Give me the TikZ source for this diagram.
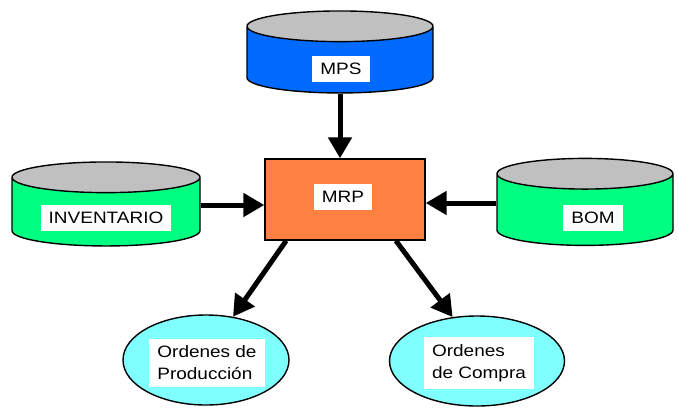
\documentclass[tikz,border=0pt]{standalone}
\usepackage{fontspec}
\setmainfont{Liberation Sans}[FakeStretch=1.15]
\usetikzlibrary{arrows.meta,shapes.geometric,positioning}

\definecolor{mpsblue}{RGB}{0,106,255}
\definecolor{tankgreen}{RGB}{0,255,128}
\definecolor{lidgray}{RGB}{192,192,192}
\definecolor{mrporange}{RGB}{255,128,64}
\definecolor{ordercyan}{RGB}{128,255,255}

\begin{document}
\begin{tikzpicture}[x=1pt,y=-1pt]

\tikzset{tank/.style={cylinder, shape border rotate=90, draw, line width=1.4pt, aspect=4.6,
                      cylinder uses custom fill, cylinder end fill=lidgray},
         tag/.style={fill=white, inner xsep=8pt, inner ysep=7pt, align=left,
                     font=\fontsize{16.5}{22}\selectfont},
         flow/.style={line width=5pt, -{Triangle[length=21pt,width=23pt]}}}

\useasboundingbox (0,0) rectangle (678,408);

% stores
\node[tank, cylinder body fill=mpsblue, minimum width=186pt, minimum height=82pt] (mps) at (340,62) {};
\node[tank, cylinder body fill=tankgreen, minimum width=188pt, minimum height=84pt] (inv) at (106,214) {};
\node[tank, cylinder body fill=tankgreen, minimum width=176pt, minimum height=87pt] (bom) at (585,212) {};

% planner and outputs
\node[draw, line width=1.4pt, fill=mrporange, minimum width=160pt, minimum height=81pt] (mrp) at (345,199.5) {};
\node[ellipse, draw, line width=1.4pt, fill=ordercyan, minimum width=166pt, minimum height=90pt] (prod) at (206,360) {};
\node[ellipse, draw, line width=1.4pt, fill=ordercyan, minimum width=175pt, minimum height=90pt] (buy) at (477,361) {};

% white tags
\node[tag] (mpstag) at (341,69) {MPS};
\node[tag] (invtag) at (106,218) {INVENTARIO};
\node[tag] (bomtag) at (593,218) {BOM};
\node[tag] (mrptag) at (343,197) {MRP};
\node[tag] (prodtag) at (207,363) {Ordenes de\\Producción};
\node[tag] (buytag) at (479,363) {Ordenes\\de Compra};

% arrows
\draw[flow] (mps.bottom) -- (mps.bottom |- mrp.north);
\draw[flow] ([yshift=9pt]inv.east) -- ([yshift=9pt]inv.east -| mrp.west);
\draw[flow] ([yshift=9pt]bom.west) -- ([yshift=9pt]bom.west -| mrp.east);
\draw[flow] (mrp.215) -- (prod.58);
\draw[flow] (mrp.-39) -- (buy.119);

\end{tikzpicture}
\end{document}
